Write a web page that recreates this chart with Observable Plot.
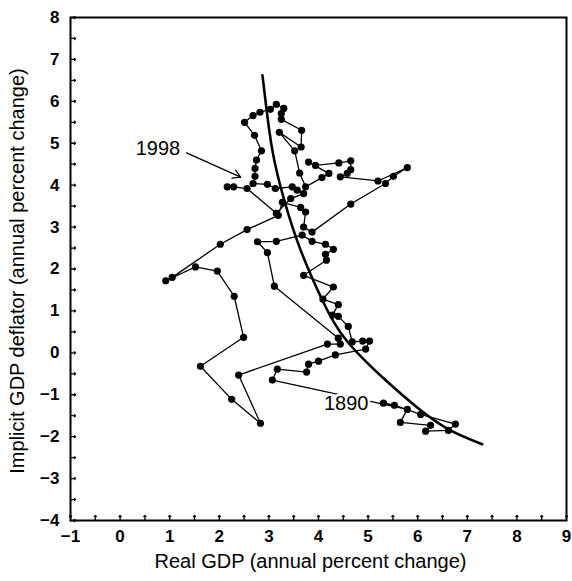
<!DOCTYPE html>
<html>
<head>
<meta charset="utf-8">
<script src="https://cdn.jsdelivr.net/npm/d3@7"></script>
<script src="https://cdn.jsdelivr.net/npm/@observablehq/plot@0.6"></script>
<style>
  html, body { margin: 0; padding: 0; background: #fff; }
  #chart svg { display: block; }
</style>
</head>
<body>
<div id="chart"></div>
<script>
// Connected path of (real GDP growth, GDP deflator) points, 1890 → 1998
const growth = [
  5.31, 5.53, 6.06, 6.76, 6.62, 6.16, 6.26, 5.65, 5.79,
  3.07, 3.17, 3.76, 3.80, 4.00, 4.34, 4.95, 5.03, 4.89, 4.68,
  4.60, 4.40, 4.28, 4.40, 4.09, 4.30, 3.70, 4.16, 4.14, 4.30, 4.14, 3.87, 3.67,
  3.15, 2.77, 2.97, 3.11, 4.40, 4.44, 4.18,
  2.39, 2.83, 2.25, 1.62, 2.49, 2.30, 1.96, 1.52, 0.92, 1.05, 2.02, 2.56, 3.19,
  3.27, 3.64, 3.74, 3.70, 3.87,
  4.65, 5.35, 5.51, 5.79, 5.20, 4.44, 4.58, 4.65, 4.65, 4.41, 3.94, 3.80, 4.21, 4.07,
  3.74, 3.62, 3.52, 3.21, 3.65, 3.66, 3.25, 3.25, 3.30, 3.15, 3.03, 2.82, 2.68, 2.51,
  2.71, 2.85, 2.75, 2.72, 2.72, 2.68, 2.97, 3.13, 3.47, 3.57, 3.70, 3.44, 3.15,
  2.56, 2.29, 2.16
];
const inflation = [
  -1.20, -1.25, -1.47, -1.70, -1.85, -1.87, -1.73, -1.66, -1.35,
  -0.65, -0.39, -0.46, -0.27, -0.20, -0.05, 0.09, 0.28, 0.28, 0.26,
  0.63, 0.87, 0.90, 1.15, 1.28, 1.57, 1.85, 2.21, 2.35, 2.47, 2.59, 2.66, 2.81,
  2.66, 2.65, 2.39, 1.59, 0.35, 0.21, 0.21,
  -0.53, -1.68, -1.11, -0.32, 0.37, 1.35, 1.95, 2.05, 1.72, 1.80, 2.59, 2.94, 3.28,
  3.59, 3.47, 3.36, 3.00, 2.88,
  3.55, 4.04, 4.21, 4.42, 4.10, 4.20, 4.28, 4.37, 4.58, 4.53, 4.47, 4.55, 4.28, 4.18,
  3.96, 4.29, 4.82, 5.26, 4.91, 5.31, 5.57, 5.71, 5.83, 5.93, 5.81, 5.74, 5.66, 5.50,
  5.19, 4.82, 4.60, 4.40, 4.21, 4.04, 4.02, 3.92, 3.96, 3.88, 3.80, 3.68, 3.33,
  3.92, 3.96, 3.96
];

// Fitted trade-off curve
const curveGrowth    = [2.87, 2.93, 3.07, 3.31, 3.64, 4.08, 4.56, 5.35, 6.06, 6.66, 7.30];
const curveInflation = [6.62, 6.03, 4.83, 3.64, 2.45, 1.25, 0.30, -0.65, -1.37, -1.85, -2.18];

const xTicks = [-1, 0, 1, 2, 3, 4, 5, 6, 7, 8, 9];
const yTicks = [-4, -3, -2, -1, 0, 1, 2, 3, 4, 5, 6, 7, 8];
const yearLabels = ["1890", "1998"];
const xTitle = "Real GDP (annual percent change)";
const yTitle = "Implicit GDP deflator (annual percent change)";

const pts = growth.map((g, i) => ({x: g, y: inflation[i]}));
const curvePts = curveGrowth.map((g, i) => ({x: g, y: curveInflation[i]}));
const xDomain = [xTicks[0], xTicks[xTicks.length - 1]];
const yDomain = [yTicks[0], yTicks[yTicks.length - 1]];
const minorX = d3.range(xDomain[0], xDomain[1] + 0.001, 0.5);
const minorY = d3.range(yDomain[0], yDomain[1] + 0.001, 0.5);
const first = pts[0];
const last = pts[pts.length - 1];

const chart = Plot.plot({
  width: 572,
  height: 581,
  marginLeft: 70,
  marginRight: 6,
  marginTop: 17,
  marginBottom: 61,
  style: {fontFamily: "'Liberation Sans', Arial, Helvetica, sans-serif", background: "#fff", color: "#000"},
  x: {domain: xDomain},
  y: {domain: yDomain},
  marks: [
    // inward tick marks
    Plot.vector(minorX, {x: d => d, y: () => yDomain[0], length: 5, rotate: 0, anchor: "start", stroke: "#000", strokeWidth: 1.3}),
    Plot.vector(minorY, {x: () => xDomain[0], y: d => d, length: 5, rotate: 90, anchor: "start", stroke: "#000", strokeWidth: 1.3}),
    Plot.axisX(xTicks, {tickSize: 0, tickPadding: 9, fontSize: 17, fontWeight: "bold", label: null}),
    Plot.axisY(yTicks, {tickSize: 0, tickPadding: 11, fontSize: 17, fontWeight: "bold", label: null}),
    Plot.text([xTitle], {frameAnchor: "bottom", textAnchor: "middle", dx: -8, dy: 47, fontSize: 20, text: d => d}),
    Plot.text([yTitle], {frameAnchor: "left", textAnchor: "middle", rotate: -90, dx: -53, dy: 2, fontSize: 20, text: d => d}),
    // data path
    Plot.line(pts, {x: "x", y: "y", stroke: "#000", strokeWidth: 1.3}),
    Plot.dot(pts, {x: "x", y: "y", r: 3.6, fill: "#000", stroke: null}),
    // trade-off curve
    Plot.line(curvePts, {x: "x", y: "y", curve: "natural", stroke: "#000", strokeWidth: 2.6}),
    // annotations
    Plot.text([first], {x: "x", y: "y", text: () => yearLabels[0], textAnchor: "end", dx: -15, fontSize: 20, fill: "#000", stroke: "#fff", strokeWidth: 5}),
    Plot.text([last], {x: "x", y: "y", text: () => yearLabels[1], textAnchor: "end", dx: -47, dy: -38, fontSize: 20, fill: "#000"}),
    Plot.arrow([last], {x1: d => d.x - 0.82, y1: d => d.y + 0.81, x2: d => d.x + 0.27, y2: d => d.y + 0.23, headLength: 10, stroke: "#000", strokeWidth: 1.3}),
    Plot.frame({stroke: "#000", strokeWidth: 2})
  ]
});
document.getElementById("chart").append(chart);
</script>
</body>
</html>
